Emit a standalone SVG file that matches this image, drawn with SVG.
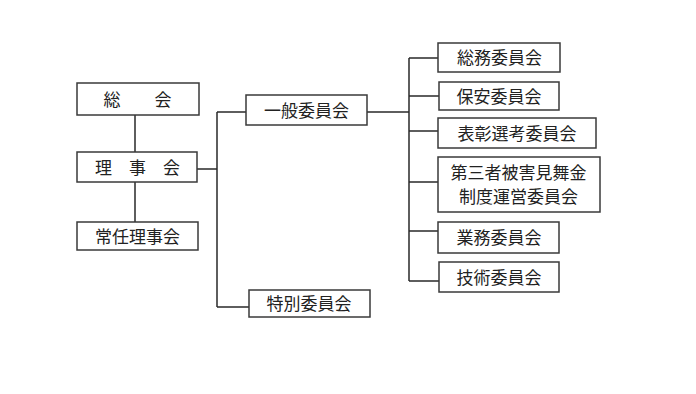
<svg xmlns="http://www.w3.org/2000/svg" width="696" height="394" viewBox="0 0 696 394">
<style>
.box{fill:#fff;stroke:#3a3a3a;stroke-width:1.5}
.ln{fill:none;stroke:#2a2a2a;stroke-width:1.5}
text{font-family:"Noto Sans CJK JP","Noto Sans CJK SC",sans-serif;font-size:17px;fill:#222;text-anchor:middle}
</style>
<rect width="696" height="394" fill="#fff"/>
<g id="connectors">
<path class="ln" d="M135 115V152M135 182V222"/>
<path class="ln" d="M197 169H217M217 112V307M217 112H246M217 307H249"/>
<path class="ln" d="M367 112H409M409 58V281"/>
<path class="ln" d="M409 58H438M409 96H439M409 131H438M409 182H438M409 231H438M409 281H439"/>
</g>
<g id="soukai"><rect class="box" x="77" y="83" width="122" height="32"/><text x="137.5" y="105.5">総　　会</text></g>
<g id="rijikai"><rect class="box" x="77" y="152" width="120" height="30"/><text x="137.5" y="173.5">理　事　会</text></g>
<g id="jonin"><rect class="box" x="77" y="222" width="121" height="28"/><text x="137.5" y="242.5">常任理事会</text></g>
<g id="ippan"><rect class="box" x="246" y="95" width="121" height="30"/><text x="306.5" y="116.5">一般委員会</text></g>
<g id="tokubetsu"><rect class="box" x="249" y="290" width="121" height="27"/><text x="309" y="310">特別委員会</text></g>
<g id="soumu"><rect class="box" x="438" y="43" width="122" height="29"/><text x="499.5" y="64">総務委員会</text></g>
<g id="hoan"><rect class="box" x="439" y="82" width="120" height="28"/><text x="499" y="102.5">保安委員会</text></g>
<g id="hyosho"><rect class="box" x="438" y="118" width="158" height="30"/><text x="517" y="139.5">表彰選考委員会</text></g>
<g id="daisansha"><rect class="box" x="438" y="157" width="162" height="55"/><text x="518.5" y="179">第三者被害見舞金</text><text x="518.5" y="202.5">制度運営委員会</text></g>
<g id="gyomu"><rect class="box" x="438" y="222" width="121" height="31"/><text x="499" y="244">業務委員会</text></g>
<g id="gijutsu"><rect class="box" x="439" y="262" width="120" height="30"/><text x="499" y="283.5">技術委員会</text></g>
</svg>
